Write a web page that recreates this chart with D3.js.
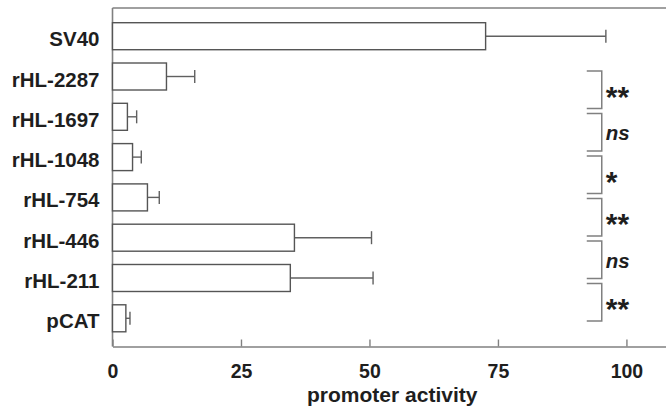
<!DOCTYPE html>
<html>
<head>
<meta charset="utf-8">
<script src="https://cdn.jsdelivr.net/npm/d3@7"></script>
<style>
    body { margin: 0; background: #fff; }
    svg { display: block; }
    text { font-family: "Liberation Sans", Arial, sans-serif; fill: #1e1e1e; }
</style>
</head>
<body>
<svg></svg>
<script>
var constructs = ["SV40", "rHL-2287", "rHL-1697", "rHL-1048", "rHL-754", "rHL-446", "rHL-211", "pCAT"]
var activity = [72.6, 10.5, 2.9, 3.9, 6.8, 35.4, 34.6, 2.6]
var errors = [23.4, 5.5, 1.8, 1.7, 2.3, 15.0, 16.1, 0.8]
var xTicks = [0, 25, 50, 75, 100]

// significance brackets between neighbouring constructs
var compareFrom = ["rHL-2287", "rHL-1697", "rHL-1048", "rHL-754", "rHL-446", "rHL-211"]
var compareTo = ["rHL-1697", "rHL-1048", "rHL-754", "rHL-446", "rHL-211", "pCAT"]
var compareSign = ["**", "ns", "*", "**", "ns", "**"]

var screen = { width: 666, height: 412 }
var margins = { left: 112.5, right: 0, top: 8, bottom: 65.5 }
var graph = {
    width: screen.width - margins.left - margins.right,
    height: screen.height - margins.top - margins.bottom
}

var svg = d3.select("svg")
    .attr("width", screen.width)
    .attr("height", screen.height)

var xScale = d3.scaleLinear()
    .domain([0, 107.7])
    .range([0, graph.width])

var yScale = d3.scaleBand()
    .domain(constructs)
    .range([0, graph.height])
    .paddingInner(0.33)
    .paddingOuter(0.365)

// brackets sit on their own slightly wider spacing than the bars
var bracketScale = d3.scaleBand()
    .domain(d3.range(compareSign.length))
    .range([63, 313])
    .paddingInner(0.118)

var rows = constructs.map(function (name, i) {
    return { name: name, value: activity[i], err: errors[i] }
})

var target = svg.append("g")
    .attr("transform", "translate(" + margins.left + "," + margins.top + ")")

// frame: top line and left axis line
target.append("line")
    .attr("x1", 0).attr("x2", graph.width)
    .attr("y1", 0).attr("y2", 0)
    .attr("stroke", "#808080").attr("stroke-width", 1.6)
target.append("line")
    .attr("x1", 0).attr("x2", 0)
    .attr("y1", 0).attr("y2", graph.height)
    .attr("stroke", "#808080").attr("stroke-width", 1.6)

// x axis with inward ticks
var xAxis = d3.axisBottom(xScale)
    .tickValues(xTicks)
    .tickSize(-7)
    .tickPadding(17.5)
    .tickSizeOuter(0)

var axisG = target.append("g")
    .attr("transform", "translate(0," + graph.height + ")")
    .call(xAxis)
axisG.select(".domain").attr("stroke", "#808080").attr("stroke-width", 1.6)
axisG.selectAll(".tick line").attr("stroke", "#808080").attr("stroke-width", 1.4)
axisG.selectAll(".tick text")
    .attr("font-size", 19.5)
    .attr("font-weight", "bold")
    .attr("fill", "#1e1e1e")
    .attr("font-family", "Liberation Sans, Arial, sans-serif")

// category labels
target.selectAll(".cat")
    .data(rows)
    .enter()
    .append("text")
    .classed("cat", true)
    .attr("x", -13)
    .attr("y", function (d) { return yScale(d.name) + yScale.bandwidth() / 2 + 10 })
    .attr("text-anchor", "end")
    .attr("font-size", 20.5)
    .attr("font-weight", "bold")
    .text(function (d) { return d.name })

// error bars
var errG = target.append("g")
    .attr("stroke", "#606060")
    .attr("stroke-width", 1.4)
errG.selectAll(".whisker")
    .data(rows)
    .enter()
    .append("line")
    .attr("x1", function (d) { return xScale(d.value) })
    .attr("x2", function (d) { return xScale(d.value + d.err) })
    .attr("y1", function (d) { return yScale(d.name) + yScale.bandwidth() / 2 })
    .attr("y2", function (d) { return yScale(d.name) + yScale.bandwidth() / 2 })
errG.selectAll(".cap")
    .data(rows)
    .enter()
    .append("line")
    .attr("x1", function (d) { return xScale(d.value + d.err) })
    .attr("x2", function (d) { return xScale(d.value + d.err) })
    .attr("y1", function (d) { return yScale(d.name) + yScale.bandwidth() / 2 - 6.5 })
    .attr("y2", function (d) { return yScale(d.name) + yScale.bandwidth() / 2 + 6.5 })

// bars
target.selectAll(".bar")
    .data(rows)
    .enter()
    .append("rect")
    .classed("bar", true)
    .attr("x", 0)
    .attr("y", function (d) { return yScale(d.name) })
    .attr("width", function (d) { return xScale(d.value) })
    .attr("height", yScale.bandwidth())
    .attr("fill", "#fff")
    .attr("stroke", "#555")
    .attr("stroke-width", 1.4)

// significance brackets
var bx = xScale(95.2)
var armLen = 15
var brackets = target.selectAll(".bracket")
    .data(compareSign)
    .enter()
    .append("g")
    .classed("bracket", true)

brackets.append("path")
    .attr("d", function (s, i) {
        var top = bracketScale(i)
        var bot = top + bracketScale.bandwidth()
        return "M" + (bx - armLen) + "," + top + "H" + bx + "V" + bot + "H" + (bx - armLen)
    })
    .attr("fill", "none")
    .attr("stroke", "#808080")
    .attr("stroke-width", 1.5)

brackets.append("text")
    .attr("x", bx + 4)
    .attr("y", function (s, i) {
        var mid = bracketScale(i) + bracketScale.bandwidth() / 2
        return s == "ns" ? mid + 8 : mid + 17
    })
    .attr("font-size", function (s) { return s == "ns" ? 20.5 : 30 })
    .attr("font-weight", "bold")
    .attr("font-style", function (s) { return s == "ns" ? "italic" : "normal" })
    .text(function (s) { return s })

// x label
target.append("text")
    .attr("x", (xScale(0) + xScale(107.7)) / 2 + 3)
    .attr("y", graph.height + 55.5)
    .attr("text-anchor", "middle")
    .attr("font-size", 21)
    .attr("font-weight", "bold")
    .text("promoter activity")
</script>
</body>
</html>
